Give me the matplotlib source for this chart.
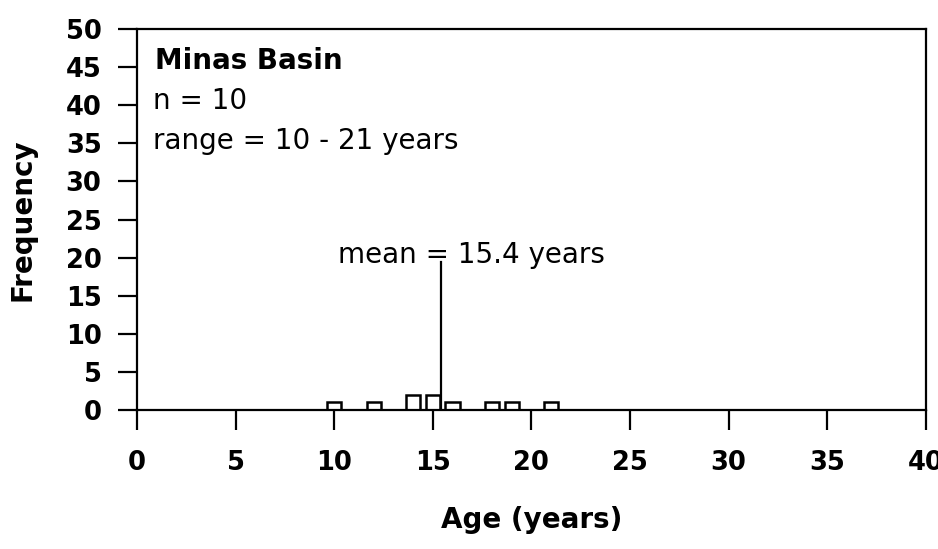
import numpy as np
import matplotlib.pyplot as plt

# Age-frequency data, Minas Basin sample
ages = [10, 12, 14, 15, 16, 18, 19, 21]
counts = [1, 1, 2, 2, 1, 1, 1, 1]
mean_age = 15.4
mean_line_top = 19.5

site_name = "Minas Basin"
n_label = "n = 10"
range_label = "range = 10 - 21 years"
mean_label = "mean = 15.4 years"

xticks = [0, 5, 10, 15, 20, 25, 30, 35, 40]
yticks = [0, 5, 10, 15, 20, 25, 30, 35, 40, 45, 50]

plt.rcParams['font.family'] = ['DejaVu Sans']

fig = plt.figure(figsize=(9.38, 5.49), dpi=100)
ax = fig.add_axes([0.146, 0.253, 0.841, 0.694])

ax.bar(ages, counts, width=0.72, facecolor='white', edgecolor='black',
       linewidth=1.8, zorder=2)
ax.plot([mean_age, mean_age], [0, mean_line_top], color='black', lw=1.6, zorder=3)

ax.set_xlim(0, 40)
ax.set_ylim(0, 50)
ax.set_xticks(xticks)
ax.set_yticks(yticks)
ax.set_xticklabels([str(t) for t in xticks], fontsize=18.5, fontweight='bold')
ax.set_yticklabels([str(t) for t in yticks], fontsize=18.5, fontweight='bold')
ax.tick_params(axis='y', direction='out', length=13.5, width=1.6, pad=12)
ax.tick_params(axis='x', direction='out', length=14.5, width=1.6, pad=14)
for s in ax.spines.values():
    s.set_linewidth(1.6)

ax.set_xlabel("Age (years)", fontsize=20, fontweight='bold', labelpad=22)
ax.set_ylabel("Frequency", fontsize=20, fontweight='bold')
ax.yaxis.set_label_coords(-0.127, 0.5)

ax.text(0.9, 45.8, site_name, fontsize=20, fontweight='bold', va='center')
ax.text(0.8, 40.5, n_label, fontsize=20, va='center')
ax.text(0.8, 35.3, range_label, fontsize=20, va='center')
ax.text(10.2, 20.3, mean_label, fontsize=20, va='center')

fig.savefig("out.png", dpi=100)
